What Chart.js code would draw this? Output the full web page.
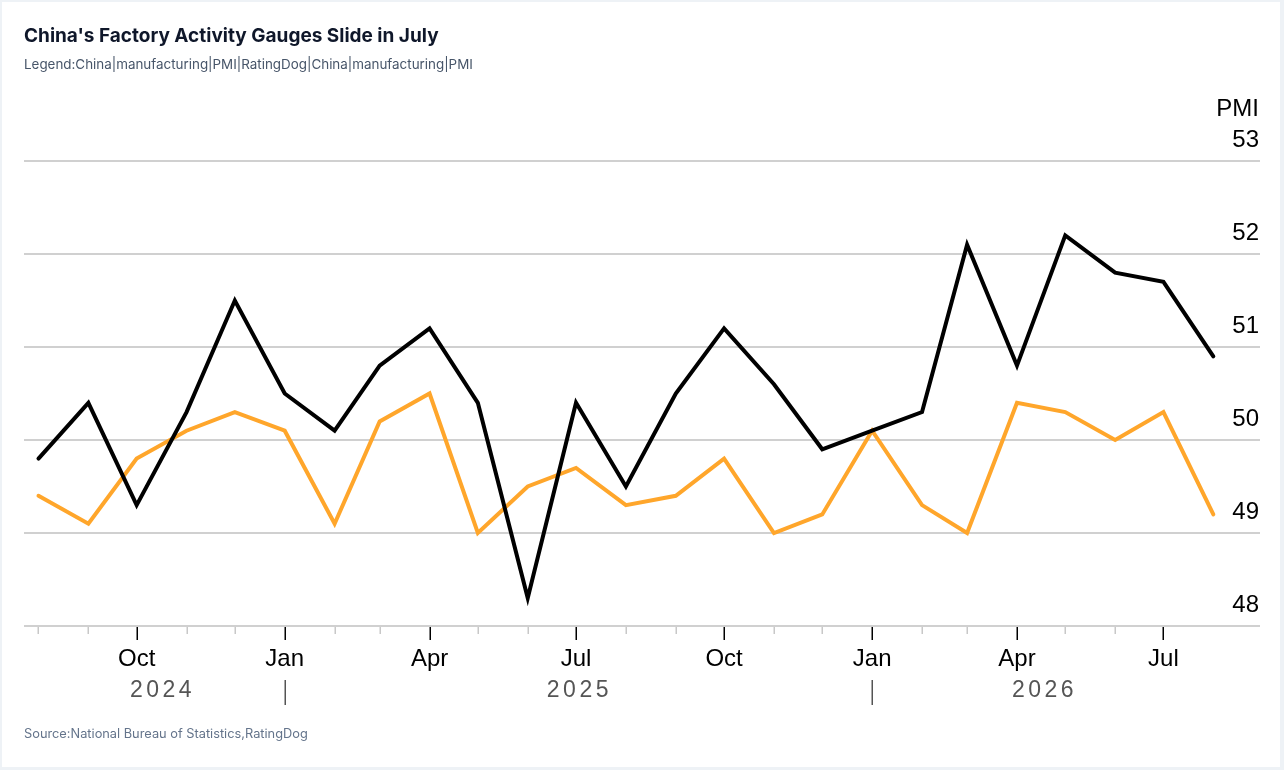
<!DOCTYPE html>
<html>
<head>
<meta charset="utf-8">
<script src="https://cdn.jsdelivr.net/npm/chart.js@4.4.1/dist/chart.umd.min.js"></script>
<style>
  html, body { margin:0; padding:0; }
  body { width:1284px; height:770px; background:#eef2f6; position:relative; overflow:hidden; }
  #card { position:absolute; left:2px; top:2px; width:1278px; height:765px; background:#fff; }
  #wrap { position:absolute; left:0; top:0; width:1284px; height:770px; }
  .txt { position:absolute; left:24px; white-space:nowrap; font-family:Inter, "Noto Sans", sans-serif; line-height:1; }
  #title { top:26px; font-size:19px; font-weight:700; color:#0f172a; }
  #legend { top:58px; font-size:13.4px; color:#475569; }
  #source { top:728px; font-size:12.8px; color:#64748b; }
</style>
</head>
<body>
<div id="card"></div>
<div id="wrap"><canvas id="c"></canvas></div>
<div class="txt" id="title">China's Factory Activity Gauges Slide in July</div>
<div class="txt" id="legend">Legend:China|manufacturing|PMI|RatingDog|China|manufacturing|PMI</div>
<div class="txt" id="source">Source:National Bureau of Statistics,RatingDog</div>
<script>
// ---- data ----
const months = ['2024-08','2024-09','2024-10','2024-11','2024-12',
  '2025-01','2025-02','2025-03','2025-04','2025-05','2025-06','2025-07','2025-08','2025-09','2025-10','2025-11','2025-12',
  '2026-01','2026-02','2026-03','2026-04','2026-05','2026-06','2026-07','2026-08'];
const ratingDogPMI = [49.8,50.4,49.3,50.3,51.5,
  50.5,50.1,50.8,51.2,50.4,48.3,50.4,49.5,50.5,51.2,50.6,49.9,
  50.1,50.3,52.1,50.8,52.2,51.8,51.7,50.9];
const chinaPMI = [49.4,49.1,49.8,50.1,50.3,
  50.1,49.1,50.2,50.5,49.0,49.5,49.7,49.3,49.4,49.8,49.0,49.2,
  50.1,49.3,49.0,50.4,50.3,50.0,50.3,49.2];
const quarterLabels = ['Jan','Apr','Jul','Oct'];
const yTicks = [48,49,50,51,52,53];
const years = [2024,2025,2026];
const seriesNames = ['RatingDog China manufacturing PMI','China manufacturing PMI'];

const DAY = 86400000;
const toTime = s => { const [y,m] = s.split('-').map(Number); return Date.UTC(y, m-1, 1); };
const times = months.map(toTime);
const t0 = times[0], tN = times[times.length-1];
const tickTimes = times.slice(0, -1);

const AX_FONT = "'Liberation Sans', Arial, Helvetica, sans-serif";
const YEAR_LS = 3.5;

const decor = {
  id:'decor',
  afterDraw(chart){
    const ctx = chart.ctx, xs = chart.scales.x, ys = chart.scales.y;
    const y0 = chart.chartArea.bottom;
    ctx.save();
    ctx.lineWidth = 1.5;
    tickTimes.forEach(v => {
      const px = Math.round(xs.getPixelForValue(v)) + 0.25;
      const m = new Date(v).getUTCMonth();
      const major = m % 3 === 0;
      ctx.strokeStyle = major ? '#000' : '#c8c8c8';
      ctx.beginPath(); ctx.moveTo(px, y0 + 1); ctx.lineTo(px, y0 + (major ? 14 : 8)); ctx.stroke();
      if (m === 0) {
        ctx.strokeStyle = '#555';
        ctx.beginPath(); ctx.moveTo(px, y0 + 54); ctx.lineTo(px, y0 + 79); ctx.stroke();
      }
    });
    // year labels
    ctx.fillStyle = '#555';
    ctx.font = "23px " + AX_FONT;
    ctx.textAlign = 'center';
    ctx.textBaseline = 'middle';
    try { ctx.letterSpacing = YEAR_LS + 'px'; } catch(e) {}
    years.forEach(yr => {
      const a = Math.max(Date.UTC(yr,0,1), t0);
      const b = Math.min(Date.UTC(yr,11,31), tN);
      const px = (xs.getPixelForValue(a) + xs.getPixelForValue(b)) / 2;
      ctx.fillText(String(yr), px + YEAR_LS/2, y0 + 65);
    });
    try { ctx.letterSpacing = '0px'; } catch(e) {}
    // axis title
    ctx.fillStyle = '#000';
    ctx.font = "24px " + AX_FONT;
    ctx.textAlign = 'right';
    ctx.fillText('PMI', chart.chartArea.right - 1, ys.getPixelForValue(53) - 52);
    ctx.restore();
  }
};

new Chart(document.getElementById('c'), {
  type:'line',
  data:{
    datasets:[
      { label: seriesNames[0], data: times.map((t,i)=>({x:t, y:ratingDogPMI[i]})),
        borderColor:'#000', borderWidth:4, pointRadius:0, tension:0, borderCapStyle:'round', fill:false },
      { label: seriesNames[1], data: times.map((t,i)=>({x:t, y:chinaPMI[i]})),
        borderColor:'#ffa62b', borderWidth:4, pointRadius:0, tension:0, borderCapStyle:'round', fill:false }
    ]
  },
  options:{
    responsive:true, maintainAspectRatio:false, animation:false,
    layout:{ padding:{ left:24, right:24, top:161, bottom:0 } },
    plugins:{ legend:{display:false}, tooltip:{enabled:false} },
    scales:{
      x:{
        type:'linear', min: t0 - 9*DAY, max: tN + 29*DAY,
        afterBuildTicks: s => { s.ticks = tickTimes.map(v => ({value:v})); },
        afterFit: s => { s.height = 144; },
        ticks:{ autoSkip:false, maxRotation:0, minRotation:0, padding:19, color:'#000',
          font:{ family:AX_FONT, size:24 },
          callback: v => { const m = new Date(v).getUTCMonth(); return m % 3 === 0 ? quarterLabels[m/3] : ''; } },
        grid:{ drawOnChartArea:false, drawTicks:false },
        border:{ display:false }
      },
      y:{
        position:'right', min:48, max:53,
        afterBuildTicks: s => { s.ticks = yTicks.map(v => ({value:v})); },
        afterFit: s => { s.width = 0; },
        ticks:{ mirror:true, padding:-1, labelOffset:-21, color:'#000', font:{ family:AX_FONT, size:24 } },
        grid:{ color:'#d0d0d0', lineWidth:2, drawTicks:false },
        border:{ display:false }
      }
    }
  },
  plugins:[decor]
});
</script>
</body>
</html>
